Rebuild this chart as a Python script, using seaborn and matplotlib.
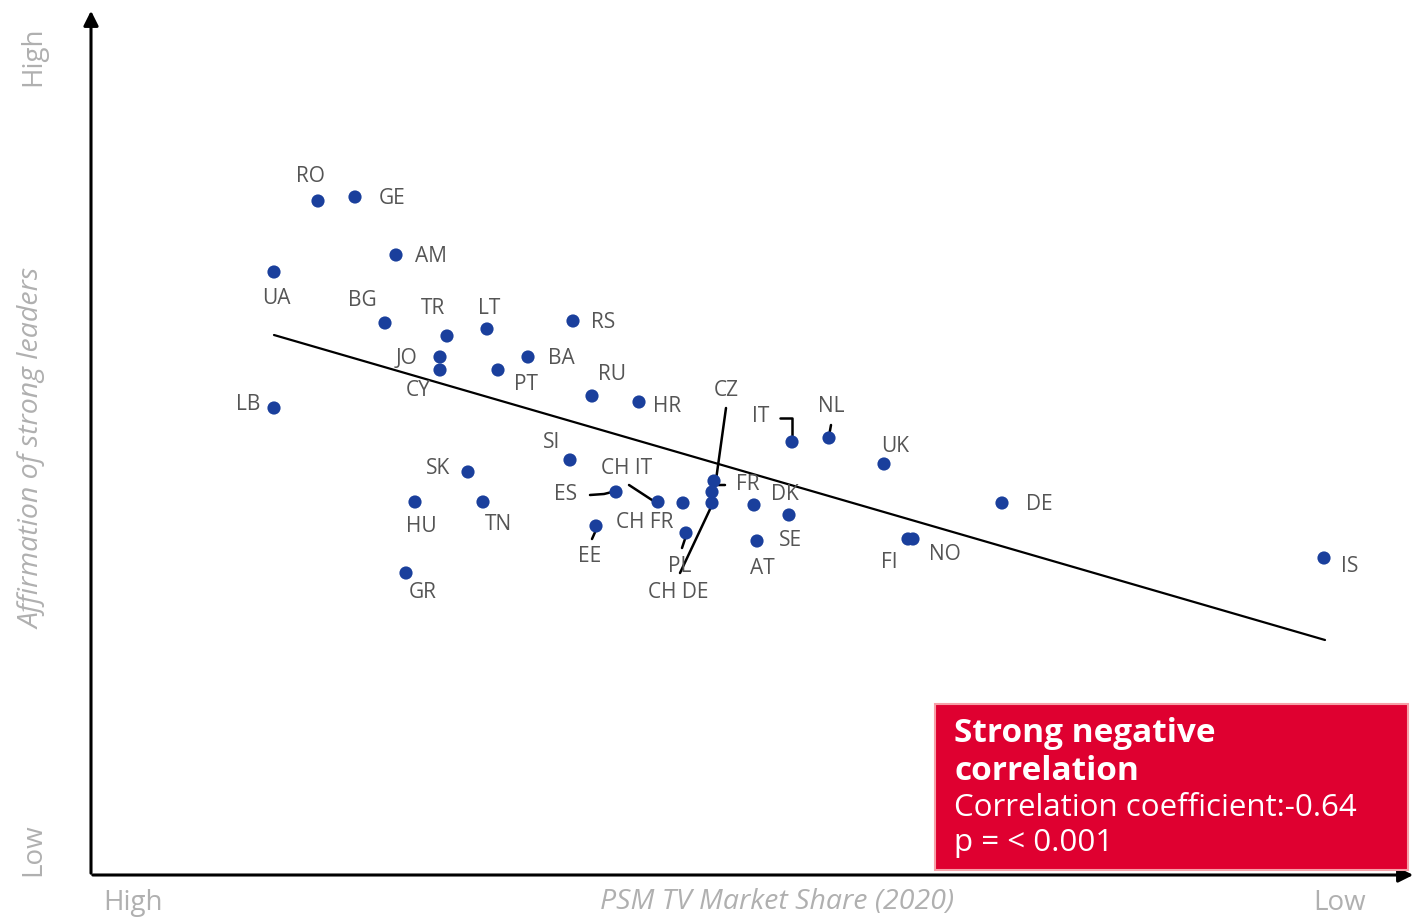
import seaborn as sns
import pandas as pd
import matplotlib.pyplot as plt
from matplotlib.patches import Rectangle

# Country codes with positions (x: PSM share, high->low; y: affirmation, low->high)
countries = ['RO', 'GE', 'AM', 'UA', 'BG', 'TR', 'LT', 'RS', 'JO', 'CY', 'BA', 'PT', 'RU', 'HR',
             'LB', 'SI', 'SK', 'HU', 'TN', 'GR', 'ES', 'CH IT', 'CH FR', 'PL', 'CZ', 'FR', 'CH DE',
             'DK', 'SE', 'AT', 'IT', 'NL', 'UK', 'DE', 'FI', 'NO', 'IS', 'EE']
share = [318, 355, 396, 274, 385, 447, 487, 573, 440, 440, 528, 498, 592, 639,
         274, 570, 468, 415, 483, 406, 616, 658, 683, 686, 714, 712, 712,
         754, 789, 757, 792, 829, 884, 1002, 908, 913, 1324, 596]
affirm = [201, 197, 255, 272, 323, 336, 329, 321, 357, 370, 357, 370, 396, 402,
          408, 460, 472, 502, 502, 573, 492, 502, 503, 533, 481, 492, 503,
          505, 515, 541, 442, 438, 464, 503, 539, 539, 558, 526]

# label positions
label_x = [310, 392, 431, 276, 362, 433, 489, 603, 406, 418, 561, 526, 612, 667,
           248, 552, 438, 421, 498, 423, 566, 627, 645, 680, 726, 748, 678,
           785, 790, 762, 761, 831, 895, 1039, 889, 945, 1350, 590]
label_y = [177, 198, 256, 298, 301, 309, 308, 323, 359, 391, 359, 384, 375, 406,
           405, 443, 468, 527, 525, 592, 495, 469, 523, 567, 391, 484, 593,
           495, 540, 569, 416, 407, 446, 504, 562, 554, 567, 557]

# leader lines from labels to points
leaders = {
    'ES': ([590, 604, 612], [495, 494, 492]),
    'CH IT': ([629, 655], [485, 502]),
    'EE': ([592, 596], [539, 530]),
    'PL': ([682, 687], [548, 533]),
    'CZ': ([726, 716], [408, 480]),
    'FR': ([725, 713, 712], [485, 485, 490]),
    'CH DE': ([680, 712], [573, 505]),
    'IT': ([780, 792, 792], [418, 418, 440]),
    'NL': ([831, 829], [425, 436]),
}

trend_x = [274, 1325]
trend_y = [335, 640]

df = pd.DataFrame({'country': countries, 'share': share, 'affirm': affirm})

sns.set_theme(style='white')
plt.rcParams['font.family'] = ['Open Sans', 'DejaVu Sans']

fig = plt.figure(figsize=(14.19, 9.17), dpi=100)
ax = fig.add_axes([0, 0, 1, 1])
ax.set_xlim(0, 1419)
ax.set_ylim(917, 0)
ax.axis('off')

# axes arrows
ax.annotate('', xy=(91, 8), xytext=(91, 876),
            arrowprops=dict(arrowstyle='-|>', color='black', lw=2.2, mutation_scale=22))
ax.annotate('', xy=(1416, 875), xytext=(90, 875),
            arrowprops=dict(arrowstyle='-|>', color='black', lw=2.2, mutation_scale=22))

# trend line
ax.plot(trend_x, trend_y, color='black', lw=1.6, zorder=2)

for name, (lx, ly) in leaders.items():
    ax.plot(lx, ly, color='black', lw=1.8, zorder=2)

sns.scatterplot(data=df, x='share', y='affirm', color='#1a3f9c', s=90,
                edgecolor='none', ax=ax, zorder=3, legend=False)

for c, x, y in zip(countries, label_x, label_y):
    ax.text(x, y, c, fontsize=15, color='#555555', ha='center', va='center')

grey = '#b0b0b0'
ax.text(33, 56, 'High', rotation=90, fontsize=20, color=grey, ha='center', va='center')
ax.text(33, 448, 'Affirmation of strong leaders', rotation=90, fontsize=20.5,
        color=grey, ha='center', va='center', style='italic')
ax.text(33, 850, 'Low', rotation=90, fontsize=20, color=grey, ha='center', va='center')
ax.text(133, 903, 'High', fontsize=20, color=grey, ha='center', va='center')
ax.text(777, 902, 'PSM TV Market Share (2020)', fontsize=20.5, color=grey,
        ha='center', va='center', style='italic')
ax.text(1340, 903, 'Low', fontsize=20, color=grey, ha='center', va='center')

# callout box
ax.add_patch(Rectangle((935, 704), 473, 166, facecolor='#df0030',
                       edgecolor='#f7a0a8', lw=1.5, zorder=4))
ax.text(954, 733, 'Strong negative', fontsize=24, color='white', weight='bold',
        ha='left', va='center', zorder=5)
ax.text(954, 772, 'correlation', fontsize=24, color='white', weight='bold',
        ha='left', va='center', zorder=5)
ax.text(954, 808, 'Correlation coefficient:-0.64', fontsize=22.5, color='white',
        ha='left', va='center', zorder=5)
ax.text(954, 843, 'p = < 0.001', fontsize=22.5, color='white',
        ha='left', va='center', zorder=5)

fig.savefig('out.png', dpi=100)
